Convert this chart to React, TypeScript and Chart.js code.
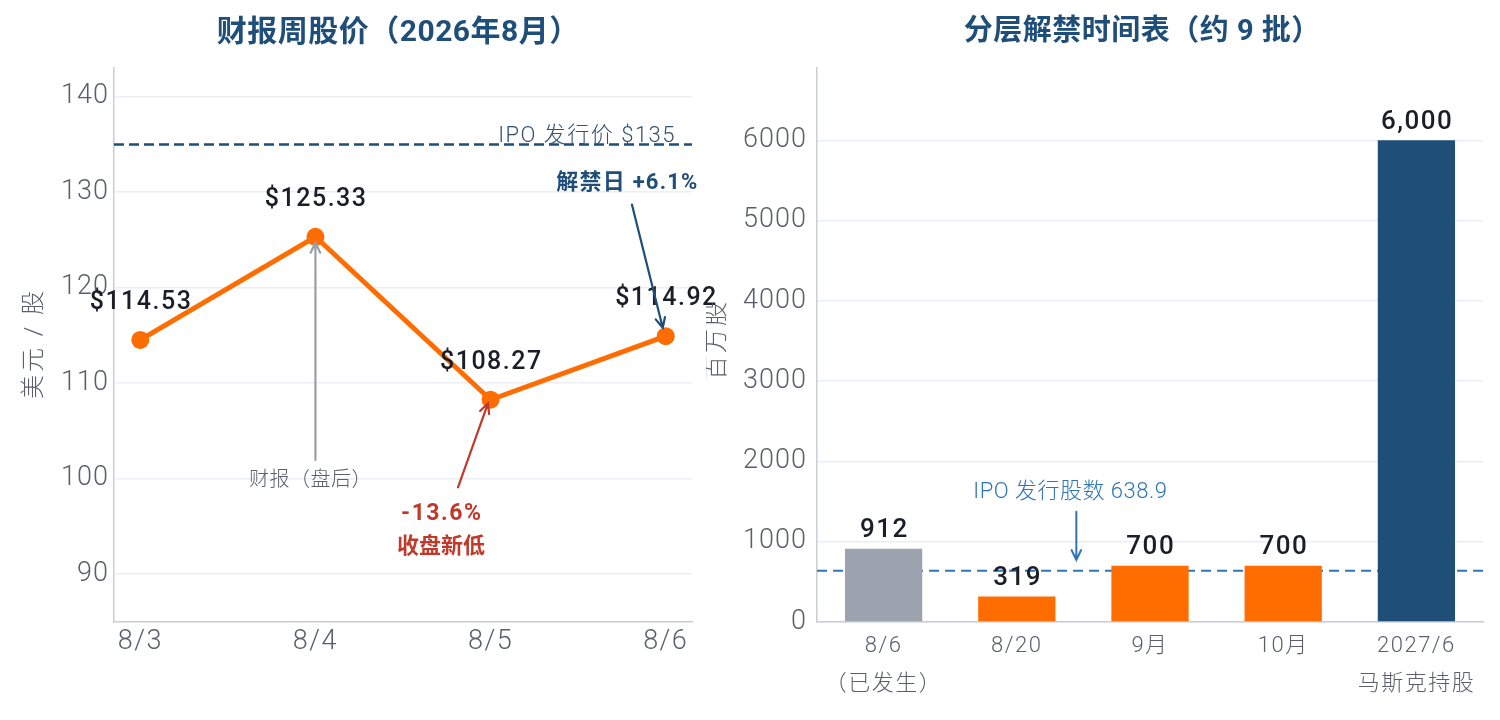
import { useEffect, useRef } from "react";
import { Chart, registerables } from "chart.js";

Chart.register(...registerables);

// ---------------- data ----------------
const priceDates = ["8/3", "8/4", "8/5", "8/6"];
const closePrices = [114.53, 125.33, 108.27, 114.92];
const priceTicks = [90, 100, 110, 120, 130, 140];
const ipoPrice = 135;

const unlockLabels = [["8/6", "（已发生）"], ["8/20"], ["9月"], ["10月"], ["2027/6", "马斯克持股"]];
const unlockShares = [912, 319, 700, 700, 6000];
const shareTicks = [0, 1000, 2000, 3000, 4000, 5000, 6000];
const ipoShares = 638.9;

// ---------------- styles ----------------
const FONT = 'Roboto, "Noto Sans CJK SC", sans-serif';
const ORANGE = "#ff6d00";
const NAVY = "#1f4e79";
const GRAYBAR = "#9ca3af";
const STEEL = "#2e75b6";
const RED = "#c0392b";
const TICK = "#5a5f69";
const GRID = "#eceef3";
const AXIS = "#c9cdd8";
const LABEL = "#1b1e26";

function drawText(
  ctx: CanvasRenderingContext2D,
  s: string,
  x: number,
  y: number,
  size: number,
  color: string,
  weight = "normal",
  spacing = 0,
  align: CanvasTextAlign = "center",
  baseline: CanvasTextBaseline = "middle"
) {
  ctx.save();
  ctx.font = `${weight} ${size}px ${FONT}`;
  (ctx as any).letterSpacing = `${spacing}px`;
  ctx.fillStyle = color;
  ctx.textAlign = align;
  ctx.textBaseline = baseline;
  const dx = align === "center" ? spacing / 2 : align === "right" ? spacing : 0;
  ctx.fillText(s, x + dx, y);
  ctx.restore();
}

function drawArrow(
  ctx: CanvasRenderingContext2D,
  x1: number,
  y1: number,
  x2: number,
  y2: number,
  color: string,
  width: number
) {
  const ang = Math.atan2(y2 - y1, x2 - x1);
  const head = 11;
  const spread = 0.45;
  ctx.save();
  ctx.strokeStyle = color;
  ctx.lineWidth = width;
  ctx.lineCap = "round";
  ctx.beginPath();
  ctx.moveTo(x1, y1);
  ctx.lineTo(x2, y2);
  ctx.moveTo(x2 - head * Math.cos(ang - spread), y2 - head * Math.sin(ang - spread));
  ctx.lineTo(x2, y2);
  ctx.lineTo(x2 - head * Math.cos(ang + spread), y2 - head * Math.sin(ang + spread));
  ctx.stroke();
  ctx.restore();
}

function drawVerticalTitle(ctx: CanvasRenderingContext2D, s: string, x: number, y: number) {
  ctx.save();
  ctx.translate(x, y);
  ctx.rotate(-Math.PI / 2);
  drawText(ctx, s, 0, 0, 24, TICK, "300", 3);
  ctx.restore();
}

function dashedLine(chart: any, yPix: number, color: string, width: number, dash: number[]) {
  const { ctx, chartArea } = chart;
  ctx.save();
  ctx.strokeStyle = color;
  ctx.lineWidth = width;
  ctx.setLineDash(dash);
  ctx.beginPath();
  ctx.moveTo(chartArea.left, yPix);
  ctx.lineTo(chartArea.right, yPix);
  ctx.stroke();
  ctx.restore();
}

const spacedColor = (spacing: number) => (c: any) => {
  (c.chart.ctx as any).letterSpacing = `${spacing}px`;
  return TICK;
};

const tickFont = { family: FONT, size: 27, weight: 300 };

// ---------------- left chart ----------------
const pricePlugin = {
  id: "priceAnnotations",
  beforeDatasetsDraw(chart: any) {
    const y = chart.scales.y;
    dashedLine(chart, y.getPixelForValue(ipoPrice), NAVY, 2.5, [10, 5]);
  },
  afterDatasetsDraw(chart: any) {
    const { ctx, chartArea } = chart;
    const x = chart.scales.x;
    const y = chart.scales.y;
    const X = (v: number) => x.getPixelForValue(v);
    const Y = (v: number) => y.getPixelForValue(v);

    drawText(ctx, "财报周股价（2026年8月）", (chartArea.left + chartArea.right) / 2 - 5, 25, 30, NAVY, "bold", 0.5);
    drawVerticalTitle(ctx, "美元 / 股", chartArea.left - 79, (chartArea.top + chartArea.bottom) / 2);

    drawText(ctx, "IPO 发行价 $135", X(3.05), Y(ipoPrice) - 2, 22, "#34506e", "300", 1.5, "right", "alphabetic");

    const meta = chart.getDatasetMeta(0);
    meta.data.forEach((pt: any, i: number) => {
      drawText(ctx, "$" + closePrices[i].toFixed(2), pt.x, pt.y - 37, 25, LABEL, "500", 1.5);
    });

    drawArrow(ctx, X(1), Y(101.95), X(1), Y(124.7), "#9aa0a8", 2.2);
    drawText(ctx, "财报（盘后）", X(0.97), Y(99.75), 20, "#5a5f69", "300", 0.5);

    drawArrow(ctx, X(1.814), Y(99.1), X(1.985), Y(107.9), RED, 2.2);
    drawText(ctx, "-13.6%", X(1.717), Y(96.3), 23, RED, "bold", 1.5);
    drawText(ctx, "收盘新低", X(1.717), Y(92.8), 22, RED, "bold", 0);

    drawText(ctx, "解禁日 +6.1%", X(2.778), Y(130.9), 22, NAVY, "bold", 1.2);
    drawArrow(ctx, X(2.807), Y(128.7), X(2.983), Y(115.8), NAVY, 2.2);
  },
};

function PriceChart() {
  const ref = useRef<HTMLCanvasElement>(null);
  useEffect(() => {
    const chart = new Chart(ref.current as HTMLCanvasElement, {
      type: "line",
      data: {
        datasets: [
          {
            data: closePrices.map((v, i) => ({ x: i, y: v })),
            borderColor: ORANGE,
            backgroundColor: ORANGE,
            borderWidth: 5,
            pointRadius: 9,
            pointHoverRadius: 9,
            pointBorderWidth: 0,
            pointBackgroundColor: ORANGE,
            tension: 0,
          },
        ],
      },
      options: {
        animation: false,
        responsive: false,
        events: [],
        layout: { autoPadding: false, padding: { top: 60, right: 36, left: 0, bottom: 0 } },
        plugins: { legend: { display: false }, tooltip: { enabled: false }, title: { display: false } },
        scales: {
          x: {
            type: "linear",
            min: -0.15,
            max: 3.15,
            afterBuildTicks: (s: any) => {
              s.ticks = priceDates.map((_, i) => ({ value: i }));
            },
            afterFit: (s: any) => {
              s.height = 90;
            },
            ticks: {
              callback: (v: any) => priceDates[v as number],
              font: tickFont,
              color: spacedColor(1.5),
              padding: 4,
              maxRotation: 0,
              autoSkip: false,
            },
            grid: { display: false, drawTicks: false },
            border: { color: AXIS, width: 1.5 },
          },
          y: {
            min: 85,
            max: 143,
            afterBuildTicks: (s: any) => {
              s.ticks = priceTicks.map((v) => ({ value: v }));
            },
            afterFit: (s: any) => {
              s.width = 106;
            },
            ticks: { font: tickFont, color: spacedColor(1), padding: 5, callback: (v: any) => String(v) },
            grid: { color: GRID, lineWidth: 1.5, drawTicks: false },
            border: { color: AXIS, width: 1.5 },
          },
        },
      },
      plugins: [pricePlugin],
    } as any);
    return () => chart.destroy();
  }, []);
  return <canvas ref={ref} width={720} height={704} style={{ display: "block", width: 720, height: 704 }} />;
}

// ---------------- right chart ----------------
const unlockPlugin = {
  id: "unlockAnnotations",
  beforeDatasetsDraw(chart: any) {
    const y = chart.scales.y;
    dashedLine(chart, y.getPixelForValue(ipoShares), STEEL, 2, [10, 6]);
  },
  afterDatasetsDraw(chart: any) {
    const { ctx, chartArea } = chart;
    const x = chart.scales.x;
    const y = chart.scales.y;
    const p0 = x.getPixelForValue(0);
    const p1 = x.getPixelForValue(1);
    const X = (v: number) => p0 + v * (p1 - p0);
    const Y = (v: number) => y.getPixelForValue(v);

    drawText(ctx, "分层解禁时间表（约 9 批）", (chartArea.left + chartArea.right) / 2 - 8, 25, 29, NAVY, "bold", 0.5);
    drawVerticalTitle(ctx, "百万股", chartArea.left - 99, (chartArea.top + chartArea.bottom) / 2 - 4);

    const meta = chart.getDatasetMeta(0);
    meta.data.forEach((bar: any, i: number) => {
      drawText(ctx, unlockShares[i].toLocaleString("en-US"), bar.x, bar.y - 18, 26, LABEL, "500", 1.5);
    });

    drawText(ctx, "IPO 发行股数 638.9", X(1.4), Y(1609), 22, STEEL, "300", 0.5);
    drawArrow(ctx, X(1.447), Y(1372), X(1.447), Y(773), STEEL, 2);
  },
};

function UnlockChart() {
  const ref = useRef<HTMLCanvasElement>(null);
  useEffect(() => {
    const chart = new Chart(ref.current as HTMLCanvasElement, {
      type: "bar",
      data: {
        labels: unlockLabels,
        datasets: [
          {
            data: unlockShares,
            backgroundColor: [GRAYBAR, ORANGE, ORANGE, ORANGE, NAVY],
            borderWidth: 0,
            barPercentage: 0.58,
            categoryPercentage: 1,
          },
        ],
      },
      options: {
        animation: false,
        responsive: false,
        events: [],
        layout: { autoPadding: false, padding: { top: 60, right: 9, left: 0, bottom: 0 } },
        plugins: { legend: { display: false }, tooltip: { enabled: false }, title: { display: false } },
        scales: {
          x: {
            afterFit: (s: any) => {
              s.height = 90;
            },
            ticks: {
              font: { family: FONT, size: 22, weight: 300, lineHeight: 1.7 },
              color: spacedColor(1.5),
              padding: 6,
              maxRotation: 0,
              autoSkip: false,
            },
            grid: { display: false, drawTicks: false },
            border: { color: AXIS, width: 1.5 },
          },
          y: {
            min: 0,
            max: 6900,
            afterBuildTicks: (s: any) => {
              s.ticks = shareTicks.map((v) => ({ value: v }));
            },
            afterFit: (s: any) => {
              s.width = 111;
            },
            ticks: { font: tickFont, color: spacedColor(1), padding: 10, callback: (v: any) => String(v) },
            grid: { color: GRID, lineWidth: 1.5, drawTicks: false },
            border: { color: AXIS, width: 1.5 },
          },
        },
      },
      plugins: [unlockPlugin],
    } as any);
    return () => chart.destroy();
  }, []);
  return (
    <canvas
      ref={ref}
      width={786}
      height={704}
      style={{ display: "block", width: 786, height: 704, marginLeft: -22, position: "relative" }}
    />
  );
}

export default function App() {
  return (
    <div style={{ display: "flex", width: 1484, height: 704 }}>
      <PriceChart />
      <UnlockChart />
    </div>
  );
}
